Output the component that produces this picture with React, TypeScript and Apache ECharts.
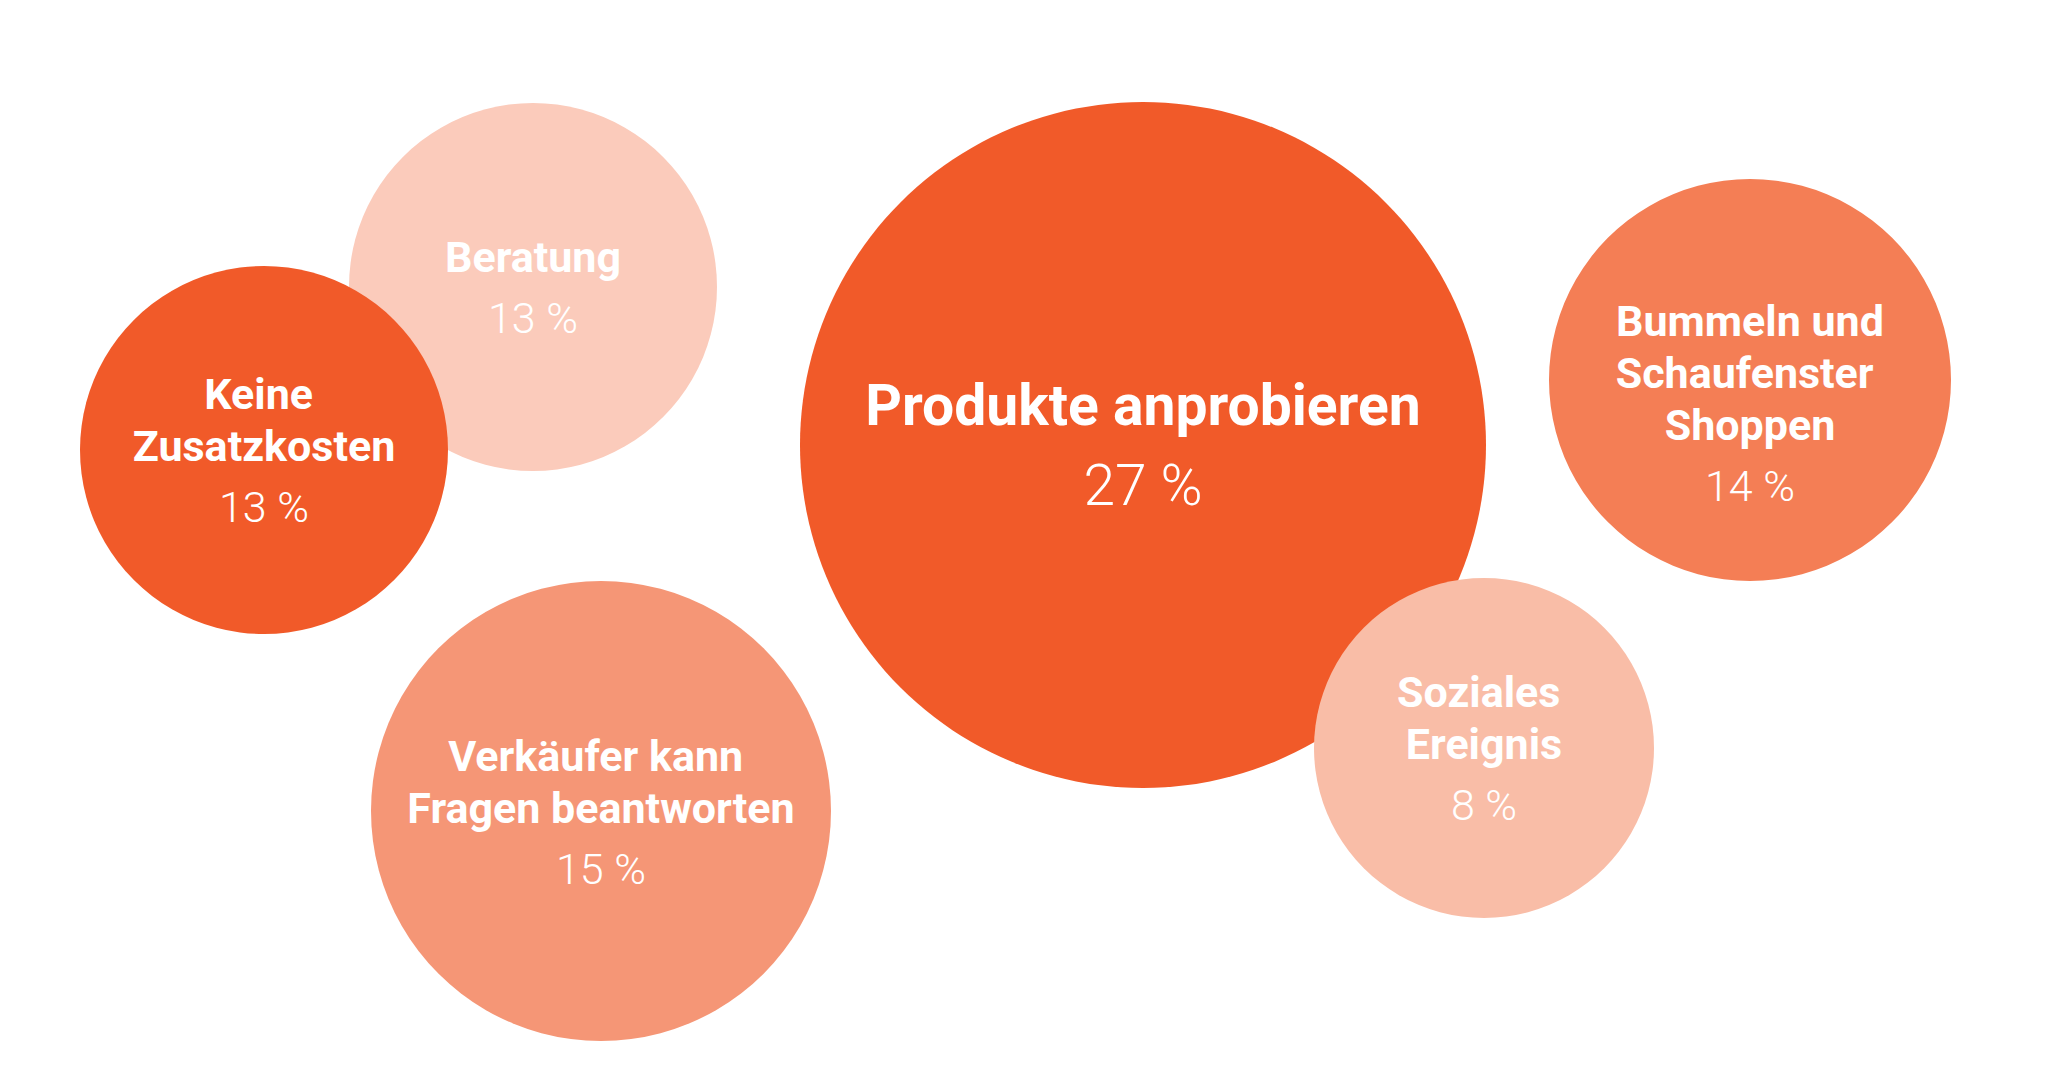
import React, { useEffect, useRef } from "react";
import * as echarts from "echarts";

// ---- data ----
const categories = [
  "Beratung",
  "Keine Zusatzkosten",
  "Produkte anprobieren",
  "Soziales Ereignis",
  "Bummeln und Schaufenster Shoppen",
  "Verkäufer kann Fragen beantworten",
];
const labelLines = [
  ["Beratung"],
  ["Keine ", "Zusatzkosten"],
  ["Produkte anprobieren"],
  ["Soziales ", "Ereignis"],
  ["Bummeln und", "Schaufenster ", "Shoppen"],
  ["Verkäufer kann ", "Fragen beantworten"],
];
const shares = [13, 13, 27, 8, 14, 15];

// ---- layout (pixel positions of the bubble cloud) ----
const layoutX = [533, 264, 1143, 1484, 1750, 601];
const layoutY = [287, 450, 445, 748, 380, 811];
const diameters = [368, 368, 686, 340, 402, 460];
const bubbleColors = ["#FBCBBB", "#F15A29", "#F15A29", "#F9BDA7", "#F47E55", "#F59676"];
const labelShift = [5, 5, 5, 5, 28, 6];
const bigLabel = [false, false, true, false, false, false];

export default function App() {
  const ref = useRef<HTMLDivElement>(null);
  useEffect(() => {
    document.body.style.margin = "0";
    const chart = echarts.init(ref.current!, null, { renderer: "svg" });
    const data = categories.map((name, i) => ({
      name,
      value: [layoutX[i], layoutY[i], shares[i]],
      symbolSize: diameters[i],
      itemStyle: { color: bubbleColors[i], opacity: 1 },
      label: {
        show: true,
        position: "inside",
        offset: [0, labelShift[i]],
        formatter: () => {
          const t = bigLabel[i] ? "T" : "t";
          const p = bigLabel[i] ? "P" : "p";
          return (
            labelLines[i].map((l) => `{${t}|${l}}`).join("\n") +
            `\n{${p}|${shares[i]} %}`
          );
        },
      },
    }));
    chart.setOption({
      animation: false,
      backgroundColor: "#ffffff",
      grid: { left: 0, right: 0, top: 0, bottom: 0 },
      xAxis: { type: "value", min: 0, max: 2048, show: false },
      yAxis: { type: "value", min: 0, max: 1090, inverse: true, show: false },
      series: [
        {
          type: "scatter",
          symbol: "circle",
          data,
          itemStyle: { opacity: 1 },
          emphasis: { disabled: true },
          label: {
            color: "#ffffff",
            align: "center",
            opacity: 1,
            rich: {
              t: {
                fontFamily: "Roboto",
                fontWeight: 700,
                fontSize: 43,
                lineHeight: 52,
                color: "#ffffff",
                align: "center",
              },
              p: {
                fontFamily: "Roboto",
                fontWeight: 300,
                fontSize: 43,
                lineHeight: 70,
                color: "#ffffff",
                align: "center",
              },
              T: {
                fontFamily: "Roboto",
                fontWeight: 700,
                fontSize: 57,
                lineHeight: 70,
                color: "#ffffff",
                align: "center",
              },
              P: {
                fontFamily: "Roboto",
                fontWeight: 300,
                fontSize: 57,
                lineHeight: 90,
                color: "#ffffff",
                align: "center",
              },
            },
          },
        },
      ],
    });
    return () => chart.dispose();
  }, []);
  return <div ref={ref} style={{ width: 2048, height: 1090 }} />;
}
